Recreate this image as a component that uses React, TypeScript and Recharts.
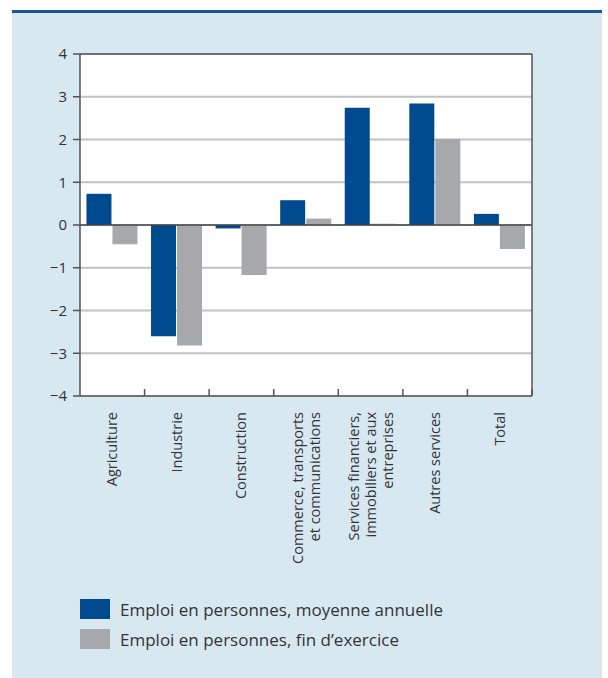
import { BarChart, Bar, XAxis, YAxis, CartesianGrid, ReferenceLine } from "recharts";

const categories = [
  "Agriculture",
  "Industrie",
  "Construction",
  "Commerce, transports\net communications",
  "Services financiers,\nimmobiliers et aux\nentreprises",
  "Autres services",
  "Total",
];
const moyenneAnnuelle = [0.73, -2.6, -0.08, 0.58, 2.74, 2.84, 0.26];
const finExercice = [-0.45, -2.82, -1.17, 0.15, 0.03, 2.01, -0.56];
const yTicks = [-4, -3, -2, -1, 0, 1, 2, 3, 4];

const seriesNames = [
  "Emploi en personnes, moyenne annuelle",
  "Emploi en personnes, fin d\u2019exercice",
];

const BLUE = "#004a8f";
const GRAY = "#a7a8ac";
const FONT = "'Open Sans', sans-serif";

const data = categories.map((c, i) => ({
  name: c,
  moyenne: moyenneAnnuelle[i],
  fin: finExercice[i],
}));

const fmt = (v: number) => String(v).replace("-", "\u2212");

const CategoryTick = (props: any) => {
  const { x, y, payload } = props;
  const half = payload && payload.offset ? payload.offset : 452 / 14;
  const axisY = y - 16;
  const lines = String(payload.value).split("\n");
  const lh = 17;
  const y0 = y;
  return (
    <g>
      <line x1={x + half} x2={x + half} y1={axisY} y2={axisY - 7} stroke="#555" strokeWidth={1.5} />
      <text
        x={x}
        y={y0}
        transform={`rotate(-90, ${x}, ${y0})`}
        textAnchor="end"
        fill="#333"
        fontSize={14.5}
        fontFamily={FONT}
      >
        {lines.map((l, i) => (
          <tspan key={i} x={x} dy={i === 0 ? (-(lines.length - 1) / 2) * lh + 5 : lh}>
            {l}
          </tspan>
        ))}
      </text>
    </g>
  );
};

export default function App() {
  return (
    <div style={{ position: "absolute", left: 0, top: 0, width: 608, height: 678, background: "#fff" }}>
      <div
        style={{
          position: "absolute",
          left: 12,
          top: 10,
          width: 590,
          height: 665,
          background: "#d8e8f1",
          borderTop: "3px solid #1d5694",
        }}
      />
      {/* white plot panel */}
      <div style={{ position: "absolute", left: 80, top: 54, width: 452, height: 342, background: "#fff" }} />
      <div style={{ position: "absolute", left: 0, top: 0 }}>
        <BarChart
          width={608}
          height={678}
          data={data}
          margin={{ top: 54, right: 0, bottom: 122, left: 0 }}
          barCategoryGap="10%"
          barGap={1}
        >
          <CartesianGrid yAxisId="left" vertical={false} stroke="#c2c2c2" strokeWidth={1.8} />
          <XAxis
            dataKey="name"
            interval={0}
            height={160}
            tick={<CategoryTick />}
            tickLine={false}
            tickSize={6}
            tickMargin={10}
            axisLine={{ stroke: "#555", strokeWidth: 1.5 }}
          />
          <YAxis
            yAxisId="left"
            orientation="left"
            width={80}
            domain={[-4, 4]}
            ticks={yTicks}
            tickFormatter={fmt}
            tickSize={7}
            tickMargin={6}
            tick={{ fill: "#333", fontSize: 15, fontFamily: FONT }}
            tickLine={{ stroke: "#555", strokeWidth: 1.5 }}
            axisLine={{ stroke: "#555", strokeWidth: 1.5 }}
          />
          <YAxis
            yAxisId="right"
            orientation="right"
            width={76}
            domain={[-4, 4]}
            ticks={yTicks}
            tickFormatter={fmt}
            tickSize={7}
            tickMargin={8}
            tick={{ fill: "#333", fontSize: 15, fontFamily: FONT, textAnchor: "start" }}
            tickLine={{ stroke: "#555", strokeWidth: 1.5 }}
            axisLine={{ stroke: "#555", strokeWidth: 1.5 }}
          />
          <Bar yAxisId="left" dataKey="moyenne" name={seriesNames[0]} fill={BLUE} isAnimationActive={false} />
          <Bar yAxisId="left" dataKey="fin" name={seriesNames[1]} fill={GRAY} isAnimationActive={false} />
          <ReferenceLine yAxisId="left" y={0} stroke="#444" strokeWidth={1.5} />
          <ReferenceLine yAxisId="left" y={4} stroke="#555" strokeWidth={1.5} />
        </BarChart>
      </div>
      {seriesNames.map((n, i) => (
        <div
          key={n}
          style={{
            position: "absolute",
            left: 80,
            top: 599 + i * 30,
            height: 20,
            display: "flex",
            alignItems: "center",
            fontFamily: FONT,
            fontSize: 17,
            color: "#333",
            whiteSpace: "nowrap",
          }}
        >
          <span style={{ display: "inline-block", width: 30, height: 20, background: i === 0 ? BLUE : GRAY, marginRight: 10 }} />
          {n}
        </div>
      ))}
    </div>
  );
}
